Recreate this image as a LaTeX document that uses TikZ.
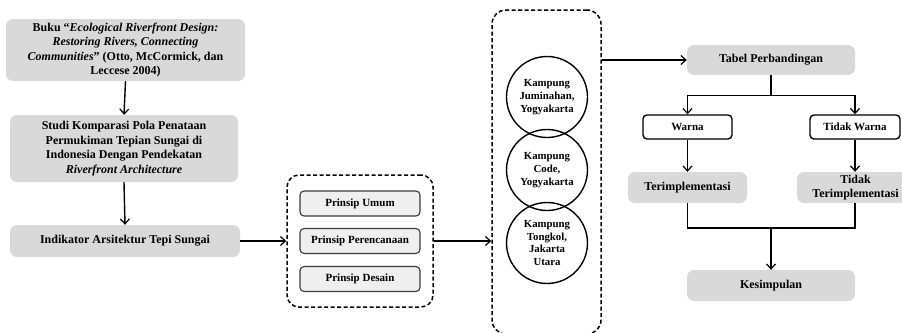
\documentclass[tikz,border=0pt]{standalone}
\usepackage{fontspec}
\setmainfont{Liberation Serif}
\usetikzlibrary{arrows.meta}
\definecolor{boxgray}{RGB}{217,217,217}
\definecolor{lightfill}{RGB}{239,239,239}
\definecolor{darkedge}{RGB}{60,60,60}
\tikzset{
  mainfont/.style={font=\fontsize{12}{14.5}\selectfont\bfseries},
  smallfont/.style={font=\fontsize{11}{13}\selectfont\bfseries},
  graybox/.style={mainfont, fill=boxgray, draw=none, rounded corners=7pt, align=center, inner sep=0pt},
  prinsipbox/.style={smallfont, fill=lightfill, draw=darkedge, line width=1.1pt, rounded corners=4pt,
    minimum width=120pt, minimum height=25pt, inner sep=0pt},
  whitebox/.style={smallfont, fill=white, draw=black, line width=1.4pt, rounded corners=4pt,
    minimum height=24pt, inner sep=0pt},
  dashbox/.style={draw=black, line width=1.5pt, dash pattern=on 4pt off 2.5pt, rounded corners=12pt, inner sep=0pt},
  kcircle/.style={circle, draw=black, line width=1.4pt, minimum size=81pt, align=center, inner sep=0pt,
    font=\fontsize{10.8}{12.8}\selectfont\bfseries},
  arr/.style={line width=1.4pt, -{Straight Barb[length=5pt,width=9pt,line width=1.2pt]}},
  plain/.style={line width=1.4pt}
}
\begin{document}
\begin{tikzpicture}[x=1pt,y=-1pt]
\useasboundingbox (0,0) rectangle (902,332);

% left column
\node[graybox, minimum width=239pt, minimum height=62pt] (buku) at (125.5,50)
  {Buku ``\textit{Ecological Riverfront Design:}\\
   \textit{Restoring Rivers, Connecting}\\
   \textit{Communities}'' (Otto, McCormick, dan\\
   Leccese 2004)};
\node[graybox, minimum width=228pt, minimum height=67pt] (studi) at (124,148.5)
  {Studi Komparasi Pola Penataan\\
   Permukiman Tepian Sungai di\\
   Indonesia Dengan Pendekatan\\
   \textit{Riverfront Architecture}};
\node[graybox, minimum width=230pt, minimum height=32pt] (indikator) at (125,241)
  {Indikator Arsitektur Tepi Sungai};

\draw[arr] (buku.south) -- (studi.north);
\draw[arr] (studi.south) -- (indikator.north);

% prinsip group
\node[dashbox, minimum width=146pt, minimum height=132pt] (grp1) at (360,241) {};
\node[prinsipbox] (umum) at (360,203.5) {Prinsip Umum};
\node[prinsipbox] (perenc) at (360,241) {Prinsip Perencanaan};
\node[prinsipbox] (desain) at (360,279) {Prinsip Desain};

\draw[arr] (indikator.east) -- (grp1.west);

% kampung group
\node[dashbox, minimum width=109pt, minimum height=324pt, rounded corners=14pt] (grp2) at (546.5,172) {};
\node[kcircle] (jum) at (547,97) {Kampung\\Juminahan,\\Yogyakarta};
\node[kcircle] (code) at (547,170) {Kampung\\Code,\\Yogyakarta};
\node[kcircle] (tong) at (547,243) {Kampung\\Tongkol,\\Jakarta\\Utara};

\draw[arr] (grp1.east) -- (grp1.east -| grp2.west);

% right part
\node[graybox, minimum width=168pt, minimum height=30pt] (tabel) at (771,60) {Tabel Perbandingan};
\coordinate (g2out) at (grp2.east |- tabel.west);
\draw[arr] (g2out) -- (tabel.west);

\node[whitebox, minimum width=89pt] (warna) at (687.5,127) {Warna};
\node[whitebox, minimum width=90pt] (twarna) at (855,127) {Tidak Warna};

\draw[plain] (tabel.south) -- ++(0,20) coordinate (sp);
\draw[arr] (sp) -| (warna.north);
\draw[arr] (sp) -| (twarna.north);

\node[graybox, minimum width=119pt, minimum height=31pt] (impl) at (687.5,187.5) {Terimplementasi};
\node[graybox, minimum width=117pt, minimum height=31pt] (timpl) at (855.5,187.5) {Tidak\\Terimplementasi};

\draw[arr] (warna.south) -- (warna.south |- impl.north);
\draw[arr] (twarna.south) -- (twarna.south |- timpl.north);

\node[graybox, minimum width=168pt, minimum height=31pt] (kes) at (771,285.5) {Kesimpulan};

\coordinate (mj) at (771,228);
\draw[plain] (impl.south) |- (mj);
\draw[plain] (twarna.south |- timpl.south) |- (mj);
\draw[arr] (mj) -- (kes.north);
\end{tikzpicture}
\end{document}
